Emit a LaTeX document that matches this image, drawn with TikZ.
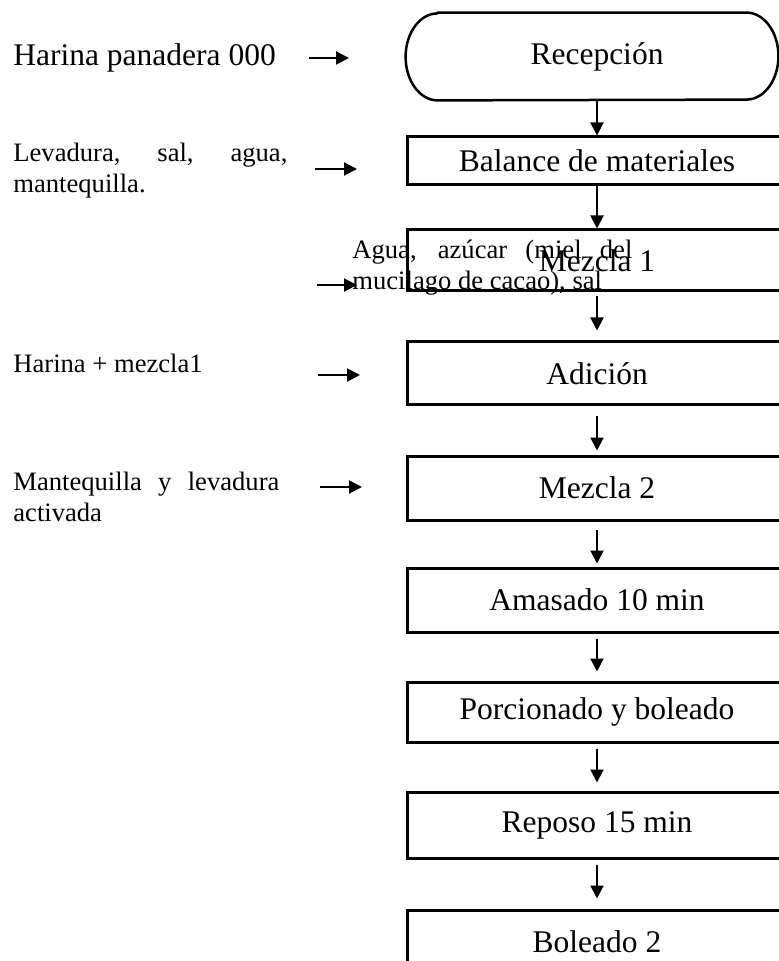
\documentclass[tikz,border=0pt]{standalone}
\usepackage{fontspec}
\setmainfont{Liberation Serif}
\usetikzlibrary{arrows.meta}
\hyphenpenalty=10000
\exhyphenpenalty=10000
\tolerance=10000
\tikzstyle{proceso} = [draw, line width=1.5pt, shape=rectangle, minimum width=190pt, inner sep=0pt, font=\fontsize{15.75}{18}\selectfont]
\tikzstyle{inicio} = [shape=rectangle, minimum width=186pt, minimum height=43.5pt, inner sep=0pt, font=\fontsize{15.75}{18}\selectfont]
\tikzstyle{entrada} = [anchor=west, inner sep=0pt, font=\fontsize{13.3}{15.5}\selectfont]
\tikzstyle{flecha} = [line width=1pt, -{Triangle[length=6.5pt,width=6.5pt]}]

\begin{document}
\begin{tikzpicture}[x=0.5pt,y=-0.5pt]
    \useasboundingbox (0,0) rectangle (779,961);
    \clip (0,0) rectangle (779,961);
    % diagrama principal
    \draw (592,56.5) node[inicio] (recep) {\hspace*{5pt}Recepción};
    \draw[line width=1.25pt, line join=round] ([xshift=16pt]recep.north west) -- ([xshift=-16pt]recep.north east)
        arc[start angle=90,end angle=-90,x radius=16pt,y radius=21.75pt]
        -- ([xshift=16pt]recep.south west)
        arc[start angle=270,end angle=90,x radius=16pt,y radius=21.75pt] -- cycle;
    \draw (597,161) node[proceso, minimum height=24pt] (bal) {Balance de materiales};
    \draw (597,260.5) node[proceso, minimum height=30.5pt] (mez1) {Mezcla 1};
    \draw (597,373.5) node[proceso, minimum height=31.5pt] (adic) {Adición};
    \draw (597,488) node[proceso, minimum height=32pt] (mez2) {Mezcla 2};
    \draw (597,600) node[proceso, minimum height=32pt] (amas) {Amasado 10 min};
    \draw (597,712) node[proceso, minimum height=30pt] (porc) {Porcionado y boleado};
    \draw (597,825) node[proceso, minimum height=33pt] (repo) {Reposo 15 min};
    \draw (597,942) node[proceso, minimum height=32pt] (bole) {Boleado 2};
    \draw[flecha] (recep.south -| bal) -- (bal);
    \draw[flecha] (bal) -- (mez1);
    \draw[flecha, shorten <=2pt, shorten >=5pt] (mez1) -- (adic);
    \draw[flecha, shorten <=5pt, shorten >=2pt] (adic) -- (mez2);
    \draw[flecha, shorten <=4pt, shorten >=1.5pt] (mez2) -- (amas);
    \draw[flecha, shorten <=2.5pt, shorten >=4.5pt] (amas) -- (porc);
    \draw[flecha, shorten <=2.5pt, shorten >=4pt] (porc) -- (repo);
    \draw[flecha, shorten <=2.5pt, shorten >=5pt] (repo) -- (bole);
    % entradas
    \draw (13,58) node[entrada, font=\fontsize{15.75}{18}\selectfont] (harina) {Harina panadera 000};
    \draw (13,171) node[entrada, text width=137pt, align=justify] (lev) {Levadura, sal, agua, mantequilla.};
    \draw (352,268) node[entrada, text width=140pt, align=justify] (agua) {Agua, azúcar (miel del mucilago de cacao), sal};
    \draw (13,363) node[entrada] (harmez) {Harina + mezcla1};
    \draw (13,497) node[entrada, text width=133pt, align=justify] (mant) {Mantequilla y levadura activada};
    \coordinate (h1) at (309,58);   \coordinate (h2) at (349,58);
    \coordinate (l1) at (315,169);  \coordinate (l2) at (357,169);
    \coordinate (a1) at (317,285);  \coordinate (a2) at (357,285);
    \coordinate (m1) at (318,375);  \coordinate (m2) at (360,375);
    \coordinate (t1) at (320,487);  \coordinate (t2) at (362,487);
    \draw[flecha] (h1) -- (h2);
    \draw[flecha] (l1) -- (l2);
    \draw[flecha] (a1) -- (a2);
    \draw[flecha] (m1) -- (m2);
    \draw[flecha] (t1) -- (t2);
\end{tikzpicture}
\end{document}
